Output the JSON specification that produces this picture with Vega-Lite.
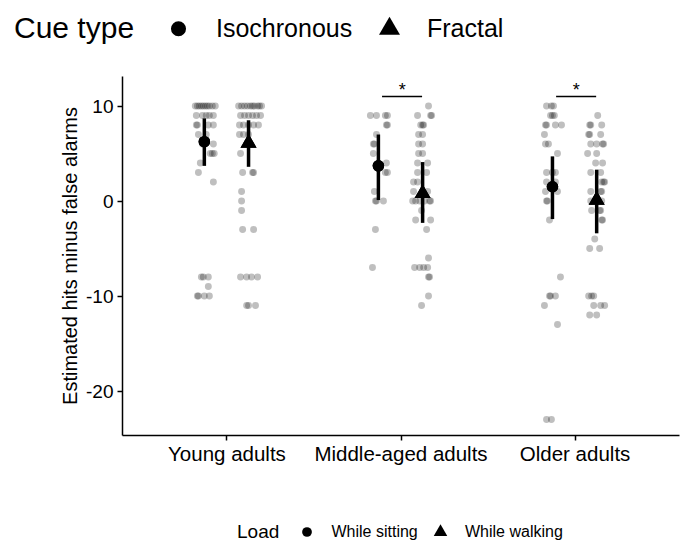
{
"$schema": "https://vega.github.io/schema/vega-lite/v6.json",
"width": 557, "height": 359,
"autosize": {"type": "none"},
"padding": {"left": 122, "top": 76, "right": 1, "bottom": 108},
"background": "white",
"config": {
 "font": "Liberation Sans",
 "view": {"stroke": null},
 "axis": {"grid": false, "domainColor": "black", "domainWidth": 1.5, "tickColor": "black", "tickWidth": 1.5, "tickSize": 5, "labelColor": "black", "titleColor": "black", "titleFontWeight": "normal", "labelFont": "Liberation Sans", "titleFont": "Liberation Sans"},
 "legend": {"titleFontWeight": "normal", "titleColor": "black", "labelColor": "black", "padding": 0, "titleFont": "Liberation Sans", "labelFont": "Liberation Sans"}
},
"datasets": {
 "pts": [
  {"g":1,"s":-1,"v":10,"j":-0.052},{"g":1,"s":-1,"v":10,"j":-0.040},{"g":1,"s":-1,"v":10,"j":-0.029},{"g":1,"s":-1,"v":10,"j":-0.017},{"g":1,"s":-1,"v":10,"j":-0.006},{"g":1,"s":-1,"v":10,"j":0.006},{"g":1,"s":-1,"v":10,"j":0.017},{"g":1,"s":-1,"v":10,"j":0.029},{"g":1,"s":-1,"v":10,"j":0.046},{"g":1,"s":-1,"v":10,"j":0.063},
  {"g":1,"s":-1,"v":9,"j":-0.046},{"g":1,"s":-1,"v":9,"j":-0.011},{"g":1,"s":-1,"v":9,"j":0.011},{"g":1,"s":-1,"v":9,"j":0.029},{"g":1,"s":-1,"v":9,"j":0.052},
  {"g":1,"s":-1,"v":8,"j":-0.046},{"g":1,"s":-1,"v":8,"j":-0.040},{"g":1,"s":-1,"v":8,"j":0.023},{"g":1,"s":-1,"v":8,"j":0.052},
  {"g":1,"s":-1,"v":7,"j":-0.034},{"g":1,"s":-1,"v":7,"j":0.011},
  {"g":1,"s":-1,"v":6,"j":0.052},{"g":1,"s":-1,"v":6,"j":-0.011},
  {"g":1,"s":-1,"v":5,"j":0.034},{"g":1,"s":-1,"v":5,"j":0.046},{"g":1,"s":-1,"v":5,"j":0.057},
  {"g":1,"s":-1,"v":4,"j":-0.023},{"g":1,"s":-1,"v":3,"j":-0.034},{"g":1,"s":-1,"v":2,"j":0.052},
  {"g":1,"s":-1,"v":-8,"j":-0.017},{"g":1,"s":-1,"v":-8,"j":-0.006},{"g":1,"s":-1,"v":-8,"j":0.023},
  {"g":1,"s":-1,"v":-9,"j":0.023},
  {"g":1,"s":-1,"v":-10,"j":-0.040},{"g":1,"s":-1,"v":-10,"j":-0.034},{"g":1,"s":-1,"v":-10,"j":0},{"g":1,"s":-1,"v":-10,"j":0.029},

  {"g":1,"s":1,"v":10,"j":-0.057},{"g":1,"s":1,"v":10,"j":-0.040},{"g":1,"s":1,"v":10,"j":-0.023},{"g":1,"s":1,"v":10,"j":-0.006},{"g":1,"s":1,"v":10,"j":0.011},{"g":1,"s":1,"v":10,"j":0.023},{"g":1,"s":1,"v":10,"j":0.034},{"g":1,"s":1,"v":10,"j":0.052},{"g":1,"s":1,"v":10,"j":0.063},{"g":1,"s":1,"v":10,"j":0.075},
  {"g":1,"s":1,"v":9,"j":-0.046},{"g":1,"s":1,"v":9,"j":-0.023},{"g":1,"s":1,"v":9,"j":0},{"g":1,"s":1,"v":9,"j":0.023},{"g":1,"s":1,"v":9,"j":0.046},{"g":1,"s":1,"v":9,"j":0.069},
  {"g":1,"s":1,"v":8,"j":-0.052},{"g":1,"s":1,"v":8,"j":-0.029},{"g":1,"s":1,"v":8,"j":0},{"g":1,"s":1,"v":8,"j":0.029},{"g":1,"s":1,"v":8,"j":0.057},
  {"g":1,"s":1,"v":7,"j":-0.052},{"g":1,"s":1,"v":7,"j":-0.029},{"g":1,"s":1,"v":7,"j":0},
  {"g":1,"s":1,"v":6,"j":0.011},{"g":1,"s":1,"v":5,"j":-0.046},
  {"g":1,"s":1,"v":3,"j":-0.034},{"g":1,"s":1,"v":3,"j":0.023},{"g":1,"s":1,"v":3,"j":0.029},
  {"g":1,"s":1,"v":1,"j":-0.040},{"g":1,"s":1,"v":0,"j":-0.040},{"g":1,"s":1,"v":-1,"j":-0.040},
  {"g":1,"s":1,"v":-3,"j":-0.034},{"g":1,"s":1,"v":-3,"j":0.029},
  {"g":1,"s":1,"v":-8,"j":-0.046},{"g":1,"s":1,"v":-8,"j":-0.011},{"g":1,"s":1,"v":-8,"j":0.017},{"g":1,"s":1,"v":-8,"j":0.052},
  {"g":1,"s":1,"v":-11,"j":-0.011},{"g":1,"s":1,"v":-11,"j":0},{"g":1,"s":1,"v":-11,"j":0.040},

  {"g":2,"s":-1,"v":9,"j":-0.046},{"g":2,"s":-1,"v":9,"j":-0.011},{"g":2,"s":-1,"v":9,"j":0.040},{"g":2,"s":-1,"v":9,"j":0.052},
  {"g":2,"s":-1,"v":8,"j":0.046},{"g":2,"s":-1,"v":8,"j":0.052},
  {"g":2,"s":-1,"v":7,"j":-0.011},
  {"g":2,"s":-1,"v":6,"j":-0.029},{"g":2,"s":-1,"v":6,"j":-0.023},
  {"g":2,"s":-1,"v":5,"j":-0.029},{"g":2,"s":-1,"v":4,"j":0.046},
  {"g":2,"s":-1,"v":3,"j":0.040},{"g":2,"s":-1,"v":3,"j":0.052},
  {"g":2,"s":-1,"v":1,"j":-0.023},
  {"g":2,"s":-1,"v":0,"j":-0.017},{"g":2,"s":-1,"v":0,"j":-0.011},{"g":2,"s":-1,"v":0,"j":0.029},
  {"g":2,"s":-1,"v":-3,"j":-0.017},{"g":2,"s":-1,"v":-7,"j":-0.034},

  {"g":2,"s":1,"v":10,"j":0.034},
  {"g":2,"s":1,"v":9,"j":-0.029},{"g":2,"s":1,"v":9,"j":0.046},{"g":2,"s":1,"v":9,"j":0.052},
  {"g":2,"s":1,"v":8,"j":-0.011},{"g":2,"s":1,"v":8,"j":0},{"g":2,"s":1,"v":8,"j":0.006},
  {"g":2,"s":1,"v":7,"j":-0.023},{"g":2,"s":1,"v":7,"j":0},
  {"g":2,"s":1,"v":6,"j":-0.023},{"g":2,"s":1,"v":6,"j":0},
  {"g":2,"s":1,"v":5,"j":-0.023},{"g":2,"s":1,"v":5,"j":0},
  {"g":2,"s":1,"v":4,"j":-0.029},{"g":2,"s":1,"v":4,"j":0.029},
  {"g":2,"s":1,"v":3,"j":-0.029},{"g":2,"s":1,"v":3,"j":0.023},
  {"g":2,"s":1,"v":2,"j":-0.052},{"g":2,"s":1,"v":2,"j":-0.029},
  {"g":2,"s":1,"v":1,"j":-0.052},{"g":2,"s":1,"v":1,"j":0.029},
  {"g":2,"s":1,"v":0,"j":-0.057},{"g":2,"s":1,"v":0,"j":-0.040},{"g":2,"s":1,"v":0,"j":-0.017},{"g":2,"s":1,"v":0,"j":0.011},{"g":2,"s":1,"v":0,"j":0.040},{"g":2,"s":1,"v":0,"j":0.046},
  {"g":2,"s":1,"v":-1,"j":-0.006},
  {"g":2,"s":1,"v":-2,"j":-0.040},{"g":2,"s":1,"v":-2,"j":0.046},
  {"g":2,"s":1,"v":-3,"j":0.023},{"g":2,"s":1,"v":-6,"j":0.034},
  {"g":2,"s":1,"v":-7,"j":-0.046},{"g":2,"s":1,"v":-7,"j":-0.017},{"g":2,"s":1,"v":-7,"j":0.006},{"g":2,"s":1,"v":-7,"j":0.029},
  {"g":2,"s":1,"v":-8,"j":0.034},{"g":2,"s":1,"v":-8,"j":0.040},
  {"g":2,"s":1,"v":-10,"j":0.034},{"g":2,"s":1,"v":-11,"j":-0.006},

  {"g":3,"s":-1,"v":10,"j":-0.034},{"g":3,"s":-1,"v":10,"j":-0.006},{"g":3,"s":-1,"v":10,"j":0.006},
  {"g":3,"s":-1,"v":9,"j":-0.011},{"g":3,"s":-1,"v":9,"j":0},{"g":3,"s":-1,"v":9,"j":0.011},
  {"g":3,"s":-1,"v":8,"j":-0.040},{"g":3,"s":-1,"v":8,"j":-0.034},{"g":3,"s":-1,"v":8,"j":0.017},{"g":3,"s":-1,"v":8,"j":0.052},
  {"g":3,"s":-1,"v":7,"j":-0.046},
  {"g":3,"s":-1,"v":6,"j":-0.040},{"g":3,"s":-1,"v":6,"j":-0.023},
  {"g":3,"s":-1,"v":5,"j":0.029},
  {"g":3,"s":-1,"v":3,"j":-0.034},{"g":3,"s":-1,"v":3,"j":0},{"g":3,"s":-1,"v":3,"j":0.017},
  {"g":3,"s":-1,"v":2,"j":-0.034},{"g":3,"s":-1,"v":2,"j":0.017},
  {"g":3,"s":-1,"v":1,"j":-0.040},{"g":3,"s":-1,"v":1,"j":0.029},
  {"g":3,"s":-1,"v":0,"j":-0.034},{"g":3,"s":-1,"v":0,"j":-0.029},
  {"g":3,"s":-1,"v":-2,"j":-0.017},{"g":3,"s":-1,"v":-8,"j":0.046},
  {"g":3,"s":-1,"v":-10,"j":-0.017},{"g":3,"s":-1,"v":-10,"j":-0.011},{"g":3,"s":-1,"v":-10,"j":0.017},
  {"g":3,"s":-1,"v":-11,"j":-0.046},{"g":3,"s":-1,"v":-13,"j":0.029},
  {"g":3,"s":-1,"v":-23,"j":-0.034},{"g":3,"s":-1,"v":-23,"j":-0.006},

  {"g":3,"s":1,"v":9,"j":0.006},
  {"g":3,"s":1,"v":8,"j":-0.040},{"g":3,"s":1,"v":8,"j":-0.034},{"g":3,"s":1,"v":8,"j":0.029},
  {"g":3,"s":1,"v":7,"j":-0.046},{"g":3,"s":1,"v":7,"j":-0.040},{"g":3,"s":1,"v":7,"j":0.023},
  {"g":3,"s":1,"v":6,"j":-0.034},{"g":3,"s":1,"v":6,"j":0},{"g":3,"s":1,"v":6,"j":0.034},{"g":3,"s":1,"v":6,"j":0.040},
  {"g":3,"s":1,"v":5,"j":-0.052},{"g":3,"s":1,"v":5,"j":0},
  {"g":3,"s":1,"v":4,"j":-0.006},{"g":3,"s":1,"v":4,"j":0.034},
  {"g":3,"s":1,"v":3,"j":-0.034},{"g":3,"s":1,"v":3,"j":0.023},
  {"g":3,"s":1,"v":2,"j":0.029},{"g":3,"s":1,"v":2,"j":0.040},{"g":3,"s":1,"v":2,"j":0.046},
  {"g":3,"s":1,"v":1,"j":-0.034},{"g":3,"s":1,"v":1,"j":0.023},{"g":3,"s":1,"v":1,"j":0.029},
  {"g":3,"s":1,"v":0,"j":-0.034},{"g":3,"s":1,"v":0,"j":0.029},
  {"g":3,"s":1,"v":-1,"j":-0.029},{"g":3,"s":1,"v":-1,"j":0.017},{"g":3,"s":1,"v":-1,"j":0.023},
  {"g":3,"s":1,"v":-2,"j":0.029},{"g":3,"s":1,"v":-2,"j":0.034},
  {"g":3,"s":1,"v":-4,"j":-0.011},
  {"g":3,"s":1,"v":-5,"j":-0.040},{"g":3,"s":1,"v":-5,"j":0.017},
  {"g":3,"s":1,"v":-10,"j":-0.046},{"g":3,"s":1,"v":-10,"j":-0.029},{"g":3,"s":1,"v":-10,"j":-0.017},
  {"g":3,"s":1,"v":-11,"j":-0.017},{"g":3,"s":1,"v":-11,"j":0.023},{"g":3,"s":1,"v":-11,"j":0.046},
  {"g":3,"s":1,"v":-12,"j":-0.040},{"g":3,"s":1,"v":-12,"j":0}
 ],
 "sum": [
  {"g":1,"s":-1,"c":"Isochronous","l":"While sitting","m":6.25,"lo":3.7,"hi":8.7},
  {"g":1,"s":1,"c":"Fractal","l":"While walking","m":6.1,"lo":3.6,"hi":8.5},
  {"g":2,"s":-1,"c":"Isochronous","l":"While sitting","m":3.7,"lo":0.1,"hi":7.0},
  {"g":2,"s":1,"c":"Fractal","l":"While walking","m":0.8,"lo":-2.3,"hi":4.1},
  {"g":3,"s":-1,"c":"Isochronous","l":"While sitting","m":1.5,"lo":-1.9,"hi":4.7},
  {"g":3,"s":1,"c":"Fractal","l":"While walking","m":0.1,"lo":-3.4,"hi":3.3}
 ],
 "sig": [
  {"g":2,"y":11,"lab":"*"},
  {"g":3,"y":11,"lab":"*"}
 ]
},
"layer": [
 {
  "data": {"name": "pts"},
  "transform": [{"calculate": "datum.g + datum.s * 0.127 + datum.j", "as": "xp"}],
  "mark": {"type": "circle", "size": 48, "color": "black", "opacity": 0.25},
  "encoding": {
   "x": {"field": "xp", "type": "quantitative", "scale": {"domain": [0.4, 3.6], "nice": false, "zero": false}, "axis": {"values": [1, 2, 3], "title": null, "labelExpr": "datum.value == 1 ? 'Young adults' : datum.value == 2 ? 'Middle-aged adults' : 'Older adults'", "labelFontSize": 20.5, "labelPadding": 4}},
   "y": {"field": "v", "type": "quantitative", "scale": {"domain": [-24.63, 13.16], "nice": false, "zero": false}, "axis": {"values": [-20, -10, 0, 10], "labelExpr": "datum.value < 0 ? '-' + abs(datum.value) : '' + datum.value", "title": "Estimated hits minus false alarms", "titleFontSize": 20, "labelFontSize": 19, "titlePadding": 5, "labelPadding": 4}}
  }
 },
 {
  "data": {"name": "sum"},
  "transform": [{"calculate": "datum.g + datum.s * 0.127", "as": "xp"}],
  "mark": {"type": "rule", "color": "black", "strokeWidth": 3.5},
  "encoding": {
   "x": {"field": "xp", "type": "quantitative", "scale": {"domain": [0.4, 3.6], "nice": false, "zero": false}, "axis": {"values": [1, 2, 3], "title": null, "labelExpr": "datum.value == 1 ? 'Young adults' : datum.value == 2 ? 'Middle-aged adults' : 'Older adults'", "labelFontSize": 20.5, "labelPadding": 4}},
   "y": {"field": "lo", "type": "quantitative", "scale": {"domain": [-24.63, 13.16], "nice": false, "zero": false}, "axis": {"values": [-20, -10, 0, 10], "labelExpr": "datum.value < 0 ? '-' + abs(datum.value) : '' + datum.value", "title": "Estimated hits minus false alarms", "titleFontSize": 20, "labelFontSize": 19, "titlePadding": 5, "labelPadding": 4}},
   "y2": {"field": "hi"}
  }
 },
 {
  "data": {"name": "sum"},
  "transform": [{"calculate": "datum.g + datum.s * 0.127", "as": "xp"}],
  "mark": {"type": "point", "filled": true, "size": 133, "color": "black", "opacity": 1, "strokeWidth": 0},
  "encoding": {
   "x": {"field": "xp", "type": "quantitative", "scale": {"domain": [0.4, 3.6], "nice": false, "zero": false}, "axis": {"values": [1, 2, 3], "title": null, "labelExpr": "datum.value == 1 ? 'Young adults' : datum.value == 2 ? 'Middle-aged adults' : 'Older adults'", "labelFontSize": 20.5, "labelPadding": 4}},
   "y": {"field": "m", "type": "quantitative", "scale": {"domain": [-24.63, 13.16], "nice": false, "zero": false}, "axis": {"values": [-20, -10, 0, 10], "labelExpr": "datum.value < 0 ? '-' + abs(datum.value) : '' + datum.value", "title": "Estimated hits minus false alarms", "titleFontSize": 20, "labelFontSize": 19, "titlePadding": 5, "labelPadding": 4}},
   "shape": {"field": "c", "type": "nominal", "scale": {"domain": ["Isochronous", "Fractal"], "range": ["circle", "M0,-1.6L1.39,0.8L-1.39,0.8Z"]},
    "legend": {"title": "Cue type", "orient": "none", "legendX": -108, "legendY": -60, "direction": "horizontal", "titleOrient": "left", "titleAnchor": "middle", "titleBaseline": "middle", "titleFontSize": 30, "labelFontSize": 25, "symbolSize": 227, "titlePadding": 31, "labelOffset": 25, "columnPadding": 24, "symbolFillColor": "black", "symbolStrokeWidth": 0}}
  }
 },
 {
  "data": {"name": "sum"},
  "transform": [{"calculate": "datum.g + datum.s * 0.127", "as": "xp"}],
  "mark": {"type": "point", "filled": true, "size": 133, "color": "black", "opacity": 1, "strokeWidth": 0},
  "encoding": {
   "x": {"field": "xp", "type": "quantitative", "scale": {"domain": [0.4, 3.6], "nice": false, "zero": false}, "axis": {"values": [1, 2, 3], "title": null, "labelExpr": "datum.value == 1 ? 'Young adults' : datum.value == 2 ? 'Middle-aged adults' : 'Older adults'", "labelFontSize": 20.5, "labelPadding": 4}},
   "y": {"field": "m", "type": "quantitative", "scale": {"domain": [-24.63, 13.16], "nice": false, "zero": false}, "axis": {"values": [-20, -10, 0, 10], "labelExpr": "datum.value < 0 ? '-' + abs(datum.value) : '' + datum.value", "title": "Estimated hits minus false alarms", "titleFontSize": 20, "labelFontSize": 19, "titlePadding": 5, "labelPadding": 4}},
   "shape": {"field": "l", "type": "nominal", "scale": {"domain": ["While sitting", "While walking"], "range": ["circle", "M0,-1.6L1.39,0.8L-1.39,0.8Z"]},
    "legend": {"title": "Load", "orient": "none", "legendX": 115, "legendY": 448, "direction": "horizontal", "titleOrient": "left", "titleAnchor": "middle", "titleBaseline": "middle", "titleFontSize": 19, "labelFontSize": 16, "symbolSize": 95, "titlePadding": 19, "labelOffset": 16.5, "columnPadding": 14.5, "symbolFillColor": "black", "symbolStrokeWidth": 0}}
  }
 },
 {
  "data": {"name": "sig"},
  "transform": [{"calculate": "datum.g - 0.106", "as": "a"}, {"calculate": "datum.g + 0.124", "as": "b"}],
  "mark": {"type": "rule", "color": "black", "strokeWidth": 1.5},
  "encoding": {
   "x": {"field": "a", "type": "quantitative", "scale": {"domain": [0.4, 3.6], "nice": false, "zero": false}, "axis": {"values": [1, 2, 3], "title": null, "labelExpr": "datum.value == 1 ? 'Young adults' : datum.value == 2 ? 'Middle-aged adults' : 'Older adults'", "labelFontSize": 20.5, "labelPadding": 4}},
   "x2": {"field": "b"},
   "y": {"field": "y", "type": "quantitative", "scale": {"domain": [-24.63, 13.16], "nice": false, "zero": false}, "axis": {"values": [-20, -10, 0, 10], "labelExpr": "datum.value < 0 ? '-' + abs(datum.value) : '' + datum.value", "title": "Estimated hits minus false alarms", "titleFontSize": 20, "labelFontSize": 19, "titlePadding": 5, "labelPadding": 4}}
  }
 },
 {
  "data": {"name": "sig"},
  "transform": [{"calculate": "datum.g + 0.01", "as": "xp"}],
  "mark": {"type": "text", "color": "black", "fontSize": 18, "baseline": "alphabetic", "align": "center", "dy": -1},
  "encoding": {
   "x": {"field": "xp", "type": "quantitative", "scale": {"domain": [0.4, 3.6], "nice": false, "zero": false}, "axis": {"values": [1, 2, 3], "title": null, "labelExpr": "datum.value == 1 ? 'Young adults' : datum.value == 2 ? 'Middle-aged adults' : 'Older adults'", "labelFontSize": 20.5, "labelPadding": 4}},
   "y": {"field": "y", "type": "quantitative", "scale": {"domain": [-24.63, 13.16], "nice": false, "zero": false}, "axis": {"values": [-20, -10, 0, 10], "labelExpr": "datum.value < 0 ? '-' + abs(datum.value) : '' + datum.value", "title": "Estimated hits minus false alarms", "titleFontSize": 20, "labelFontSize": 19, "titlePadding": 5, "labelPadding": 4}},
   "text": {"field": "lab"}
  }
 }
],
"resolve": {"scale": {"shape": "independent"}}
}
